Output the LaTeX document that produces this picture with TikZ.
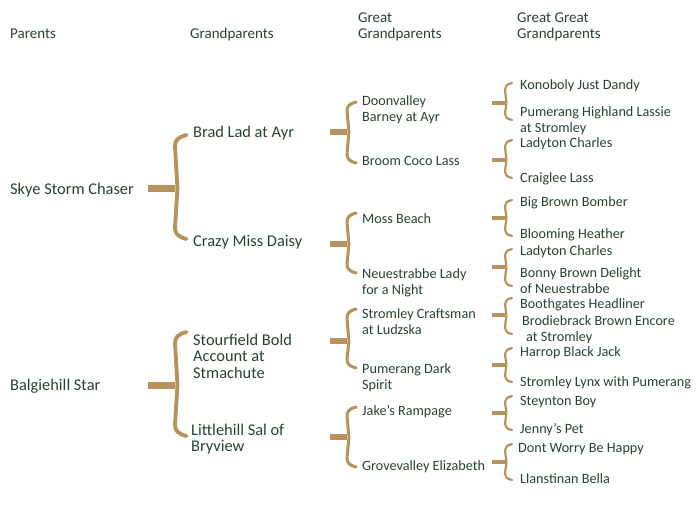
\documentclass[tikz,border=0pt]{standalone}
\usepackage{fontspec}
\setmainfont{Carlito}
\usepackage{tikz}
\usetikzlibrary{positioning,calc}

\definecolor{pedtext}{HTML}{27432F}
\definecolor{pedbrace}{HTML}{B8925C}

% brace: stem start x, spine x, stem y, top tip y, bottom tip y, size
\newcommand{\pedbrace}[6]{%
	\draw[bracestem, line width=#6pt] (#1,#3) -- (#2,#3);
	\draw[bracespine, line width=0.55*#6pt]
		(#2+1.5*#6+1,#4) .. controls (#2+0.4*#6,#4+0.3*#6) and (#2,#4+0.8*#6) .. (#2,#4+1.6*#6)
		-- (#2+0.35*#6,#3) -- (#2,#5-1.6*#6)
		.. controls (#2,#5-0.8*#6) and (#2+0.4*#6,#5-0.3*#6) .. (#2+1.5*#6+1,#5);
}

\begin{document}
\begin{tikzpicture}[
			x=1pt, y=-1pt,
			header/.style={anchor=base west, inner sep=0pt, align=left, text=pedtext, font=\fontsize{15}{16}\selectfont},
			sire/.style={anchor=base west, inner sep=0pt, align=left, text=pedtext, font=\fontsize{16.4}{16.5}\selectfont},
			anc/.style={anchor=base west, inner sep=0pt, align=left, text=pedtext, font=\fontsize{14.2}{16}\selectfont},
			bracestem/.style={draw=pedbrace},
			bracespine/.style={draw=pedbrace, line cap=round, line join=round},
		]

		\useasboundingbox (0,0) rectangle (700,505);

		% column headers (base = last line)
		\node[header] (hpar)  at (10,39)  {Parents};
		\node[header] (hgp)   at (190,39) {Grandparents};
		\node[header] (hggp)  at (358,39) {Great\\Grandparents};
		\node[header] (hgggp) at (517,39) {Great Great\\Grandparents};

		% parents
		\node[sire] (sire)  at (10,194) {Skye Storm Chaser};
		\node[sire] (dam)   at (10,390) {Balgiehill Star};

		% grandparents
		\node[sire] (ss) at (193,138) {Brad Lad at Ayr};
		\node[sire] (sd) at (193,246) {Crazy Miss Daisy};
		\node[sire] (ds) at (193,378) {Stourfield Bold\\Account at\\Stmachute};
		\node[sire] (dd) at (191,451.5) {Littlehill Sal of\\Bryview};

		% great grandparents
		\node[anc] (sss) at (362,122) {Doonvalley\\Barney at Ayr};
		\node[anc] (ssd) at (362,165) {Broom Coco Lass};
		\node[anc] (sds) at (362,223) {Moss Beach};
		\node[anc] (sdd) at (362,294) {Neuestrabbe Lady\\for a Night};
		\node[anc] (dss) at (362,334) {Stromley Craftsman\\at Ludzska};
		\node[anc] (dsd) at (362,389) {Pumerang Dark\\Spirit};
		\node[anc] (dds) at (362,415) {Jake's Rampage};
		\node[anc] (ddd) at (362,470) {Grovevalley Elizabeth};

		% great great grandparents
		\node[anc] (ssss) at (520,90)  {Konoboly Just Dandy};
		\node[anc] (sssd) at (520,132) {Pumerang Highland Lassie\\at Stromley};
		\node[anc] (ssds) at (520,147) {Ladyton Charles};
		\node[anc] (ssdd) at (520,182) {Craiglee Lass};
		\node[anc] (sdss) at (520,206) {Big Brown Bomber};
		\node[anc] (sdsd) at (520,238) {Blooming Heather};
		\node[anc] (sdds) at (520,255) {Ladyton Charles};
		\node[anc] (sddd) at (520,293) {Bonny Brown Delight\\of Neuestrabbe};
		\node[anc] (dsss) at (520,308) {Boothgates Headliner};
		\node[anc] (dssd) at (522,341) {Brodiebrack Brown Encore\\\hspace*{4pt}at Stromley};
		\node[anc] (dsds) at (520,356) {Harrop Black Jack};
		\node[anc] (dsdd) at (520,386) {Stromley Lynx with Pumerang};
		\node[anc] (ddss) at (520,405) {Steynton Boy};
		\node[anc] (ddsd) at (520,433) {Jenny's Pet};
		\node[anc] (ddds) at (518,452) {Dont Worry Be Happy};
		\node[anc] (dddd) at (520,483) {Llanstinan Bella};

		% braces, parents to grandparents
		\pedbrace{148}{175}{188.5}{135}{239}{7}
		\pedbrace{148}{175}{385}{332}{436}{7}

		% braces, grandparents to great grandparents
		\foreach \ys/\yt/\yb in {132/102/163, 244/213/273, 341/309/368, 437/407/467}
			{\pedbrace{330}{347}{\ys}{\yt}{\yb}{5.5}}

		% braces, great grandparents to great great grandparents
		\foreach \ys/\yt/\yb in {103/83/120, 160/140/178, 218/200/236, 267/249/286,
				315/298/334, 365/348/382, 413/396/430, 462/444/480}
			{\pedbrace{492}{505}{\ys}{\yt}{\yb}{4}}

	\end{tikzpicture}
\end{document}
